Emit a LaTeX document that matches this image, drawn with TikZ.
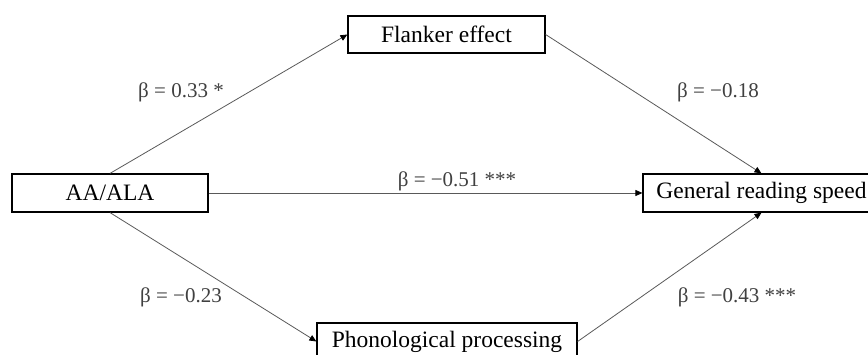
\documentclass[tikz,border=0pt]{standalone}
\usepackage{fontspec}
\setmainfont{Liberation Serif}
\usetikzlibrary{arrows.meta}
\begin{document}
\begin{tikzpicture}[x=1pt,y=-1pt,
  box/.style={draw=black,line width=1.2pt,fill=white,inner sep=0pt,font=\fontsize{23.5}{26}\selectfont},
  conn/.style={draw=black!65,line width=0.8pt,-{Triangle[length=7pt,width=6pt,fill=black,color=black]}},
  lbl/.style={text=black!75,inner sep=0pt,font=\fontsize{21}{24}\selectfont}]
\useasboundingbox (0,0) rectangle (868,355);
\node[box,minimum width=196pt,minimum height=38pt] (aa) at (110,193) {AA/ALA};
\node[box,minimum width=197pt,minimum height=37pt] (fl) at (446.5,34.5) {Flanker effect};
\node[box,minimum width=237pt,minimum height=38pt] (grs) at (761.5,193) {General reading speed};
\node[box,minimum width=260pt,minimum height=37pt] (ph) at (447,341.5) {Phonological processing};
\draw[conn] (aa.north) -- (fl.west);
\draw[conn] (fl.east) -- (grs.north);
\draw[conn] (aa.east) -- (grs.west);
\draw[conn] (aa.south) -- (ph.west);
\draw[conn] (ph.east) -- (grs.south);
\node[lbl] (l1) at (181,92) {β = 0.33 *};
\node[lbl] (l2) at (718,92) {β = −0.18};
\node[lbl] (l3) at (457,181) {β = −0.51 ***};
\node[lbl] (l4) at (181,297) {β = −0.23};
\node[lbl] (l5) at (737,297) {β = −0.43 ***};
\end{tikzpicture}
\end{document}
